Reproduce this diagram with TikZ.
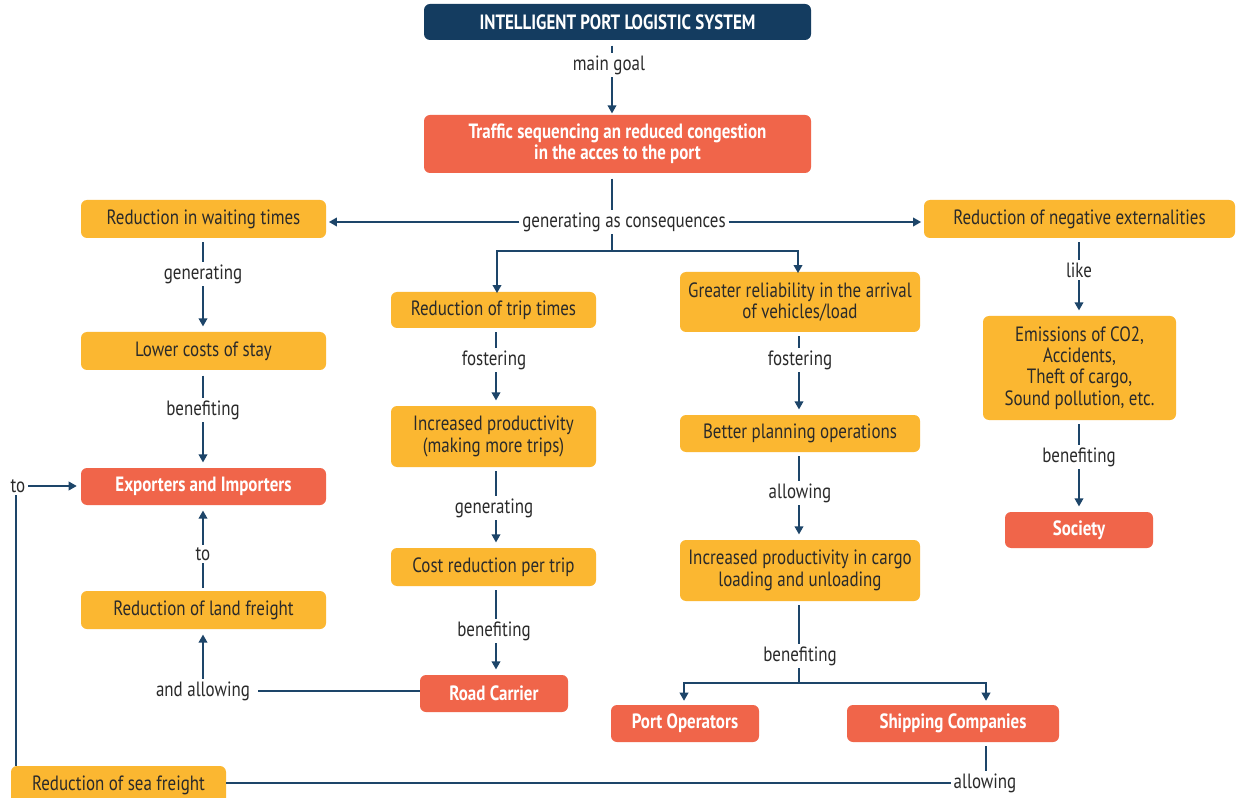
\documentclass[tikz,border=0pt]{standalone}
\usepackage{fontspec}
\setmainfont{PT Sans}[FakeStretch=0.82]
\usetikzlibrary{arrows.meta}
\definecolor{navy}{HTML}{143C60}
\definecolor{redbox}{HTML}{F0654A}
\definecolor{yelbox}{HTML}{FBB731}
\definecolor{lin}{HTML}{1D4569}
\definecolor{txt}{HTML}{2A2A2A}
\tikzset{
  box/.style={rounded corners=4.5pt, align=center, inner sep=0pt, font=\fontsize{15.5}{16}\selectfont},
  ybox/.style={box, fill=yelbox, text=txt},
  rbox/.style={box, fill=redbox, text=white, font=\fontsize{15.5}{16}\selectfont\bfseries},
  nbox/.style={box, fill=navy, text=white, font=\fontsize{15.5}{16}\selectfont\bfseries},
  lbl/.style={text=txt, inner sep=2pt, font=\fontsize{15.5}{16}\selectfont},
  con/.style={draw=lin, line width=1.1pt},
  arr/.style={con, -{Triangle[width=6.5pt,length=6pt]}},
  sz/.style 2 args={minimum width=#1*0.75pt, minimum height=#2*0.75pt},
}
\begin{document}
\begin{tikzpicture}[x=0.75pt,y=-0.75pt]
\clip (0,0) rectangle (1238,798);
\fill[white] (0,0) rectangle (1238,798);
% nodes
\node[nbox, sz={387}{36}] (top) at (617.5,22) {INTELLIGENT PORT LOGISTIC SYSTEM};
\node[rbox, sz={387}{58}] (traffic) at (617.5,144) {Traffic sequencing an reduced congestion\\in the acces to the port};
\node[ybox, sz={245}{38}] (wait) at (203.5,219) {Reduction in waiting times};
\node[ybox, sz={311}{38}] (neg) at (1079.5,219) {Reduction of negative externalities};
\node[ybox, sz={205}{36}] (trip) at (493.5,310) {Reduction of trip times};
\node[ybox, sz={240}{60}] (rel) at (800,302) {Greater reliability in the arrival\\of vehicles/load};
\node[ybox, sz={245}{38}] (lower) at (203.5,351) {Lower costs of stay};
\node[ybox, sz={193}{104}] (emis) at (1079.5,368) {Emissions of CO2,\\Accidents,\\Theft of cargo,\\Sound pollution, etc.};
\node[ybox, sz={205}{61}] (prod) at (493.5,436.5) {Increased productivity\\(making more trips)};
\node[ybox, sz={240}{37}] (plan) at (800,433.5) {Better planning operations};
\node[rbox, sz={245}{37}] (exp) at (203.5,486.5) {Exporters and Importers};
\node[rbox, sz={148}{36}] (soc) at (1079,530) {Society};
\node[ybox, sz={205}{38}] (cost) at (493.5,567) {Cost reduction per trip};
\node[ybox, sz={240}{61}] (cargo) at (800,570.5) {Increased productivity in cargo\\loading and unloading};
\node[ybox, sz={245}{38}] (land) at (203.5,610) {Reduction of land freight};
\node[rbox, sz={148}{37}] (road) at (494,693.5) {Road Carrier};
\node[rbox, sz={148}{37}] (port) at (685,723.5) {Port Operators};
\node[rbox, sz={212}{37}] (ship) at (953,723.5) {Shipping Companies};
\node[ybox, sz={215}{38}] (sea) at (118.5,785) {Reduction of sea freight};
% labels
\node[lbl] (lmain) at (609,65) {main goal};
\node[lbl] (lgen) at (624,222) {generating as consequences};
\node[lbl] (lg1) at (203,274) {generating};
\node[lbl] (lb1) at (203,410) {benefiting};
\node[lbl] (lto1) at (203,554) {to};
\node[lbl] (land2) at (203,691) {and allowing};
\node[lbl] (lf1) at (494,360) {fostering};
\node[lbl] (lg2) at (494,508) {generating};
\node[lbl] (lb2) at (494,631) {benefiting};
\node[lbl] (lf2) at (800,360) {fostering};
\node[lbl] (la2) at (800,493) {allowing};
\node[lbl] (lb3) at (800,656) {benefiting};
\node[lbl] (llike) at (1079,270) {like};
\node[lbl] (lb4) at (1079,457) {benefiting};
\node[lbl] (lall) at (985,783) {allowing};
\node[lbl] (lto2) at (18,486) {to};
\coordinate (c1) at (612,40);
\coordinate (c2) at (612,173);
\coordinate (split) at (612,251);
\coordinate (split2) at (800,683);
% connectors
\draw[con, shorten <=4pt] (top.south -| c1) -- (lmain.north -| c1);
\draw[arr, shorten >=1pt] (lmain.south -| c1) -- (traffic.north -| c1);
\draw[con, shorten <=4pt] (traffic.south -| c2) -- (lgen.north -| c2);
\draw[arr, shorten >=2pt] (lgen.west) -- (wait.east |- lgen.west);
\draw[arr, shorten >=2pt] (lgen.east) -- (neg.west |- lgen.east);
\draw[con] (lgen.south -| c2) -- (split);
\draw[arr] (split) -| ([yshift=-1pt]trip.north -| 497,0);
\draw[arr] (split) -| ([yshift=-1pt]rel.north -| 798,0);
% left column
\draw[con, shorten <=3pt] (wait.south -| lg1) -- (lg1.north);
\draw[arr, shorten >=4pt] (lg1.south) -- (lower.north -| lg1);
\draw[con, shorten <=4pt] (lower.south -| lb1) -- (lb1.north);
\draw[arr, shorten >=4pt] (lb1.south) -- (exp.north -| lb1);
\draw[con, shorten <=2pt] (land.north -| lto1) -- (lto1.south);
\draw[arr, shorten >=4pt] (lto1.north) -- (exp.south -| lto1);
\draw[arr, shorten >=4pt] (land2.north) -- (land.south -| land2);
\draw[con, shorten <=4pt] (land2.east) -- (road.west |- land2.east);
% trip column
\draw[con, shorten <=3pt] (trip.south -| 496,0) -- (lf1.north -| 496,0);
\draw[arr, shorten >=4pt] (lf1.south -| 496,0) -- (prod.north -| 496,0);
\draw[con, shorten <=3pt] (prod.south -| 496,0) -- (lg2.north -| 496,0);
\draw[arr, shorten >=4pt] (lg2.south -| 496,0) -- (cost.north -| 496,0);
\draw[con, shorten <=3pt] (cost.south -| 496,0) -- (lb2.north -| 496,0);
\draw[arr, shorten >=4pt] (lb2.south -| 496,0) -- (road.north -| 496,0);
% reliability column
\draw[con, shorten <=3pt] (rel.south -| 799,0) -- (lf2.north -| 799,0);
\draw[arr, shorten >=4pt] (lf2.south -| 799,0) -- (plan.north -| 799,0);
\draw[con, shorten <=3pt] (plan.south -| 799,0) -- (la2.north -| 799,0);
\draw[arr, shorten >=4pt] (la2.south -| 799,0) -- (cargo.north -| 799,0);
\draw[con, shorten <=3pt] (cargo.south -| 799,0) -- (lb3.north -| 799,0);
\draw[con] (lb3.south -| 799,0) -- (split2 -| 799,0);
\draw[arr, shorten >=3pt] (split2 -| 799,0) -| (port.north -| 684,0);
\draw[arr, shorten >=3pt] (split2 -| 799,0) -| (ship.north -| 986,0);
% right column
\draw[con, shorten <=3pt] (neg.south -| llike) -- (llike.north);
\draw[arr, shorten >=4pt] (llike.south) -- (emis.north -| llike);
\draw[con, shorten <=3pt] (emis.south -| lb4) -- (lb4.north);
\draw[arr, shorten >=4pt] (lb4.south) -- (soc.north -| lb4);
% bottom loop
\draw[con, shorten <=3pt] (ship.south -| 986,0) -- (lall.north -| 986,0);
\draw[con] (lall.west) -- (sea.east |- lall.west);
\draw[con] (sea.north -| 16,0) -- (lto2.south -| 16,0);
\draw[arr, shorten >=3pt] (lto2.east) -- (exp.west |- lto2.east);
\end{tikzpicture}
\end{document}
